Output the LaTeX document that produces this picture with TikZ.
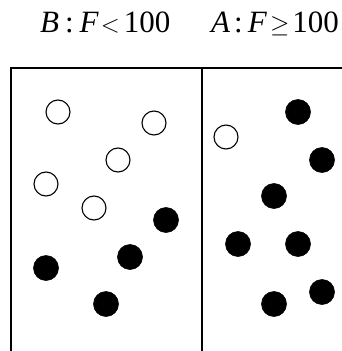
\documentclass[tikz,border=0pt]{standalone}
\usepackage{fontspec}
\setmainfont{Liberation Serif}
\begin{document}
\begin{tikzpicture}[x=1pt,y=-1pt,
  wball/.style={circle,draw=black,line width=1.1pt,fill=white,minimum size=24pt,inner sep=0pt},
  bball/.style={circle,draw=black,fill=black,line width=0.6pt,minimum size=25pt,inner sep=0pt},
  boxline/.style={line width=1.4pt,black},
  lbl/.style={anchor=base west,inner sep=0pt,font=\fontsize{31}{35}\selectfont}]
\useasboundingbox (0,0) rectangle (341,351);
% labels
\node[lbl] (lb) at (40,32) {\textit{B}\kern6pt:\kern6pt\textit{F}\kern2pt$<$\kern4pt100};
\node[lbl] (la) at (211,32) {\textit{A}\kern4pt:\kern5pt\textit{F}\kern3pt$\geq$\kern3pt100};
% box
\coordinate (tl) at (11,68);
\coordinate (bl) at (11,352);
\coordinate (tm) at (202,68);
\coordinate (bm) at (202,352);
\coordinate (tr) at (342,68);
\draw[boxline] (bl) -- (tl) -- (tr);
\draw[boxline] (tm) -- (bm);
% left region
\node[wball] (w1) at (58,112) {};
\node[wball] (w2) at (154,123) {};
\node[wball] (w3) at (118,160) {};
\node[wball] (w4) at (46,184) {};
\node[wball] (w5) at (94,208) {};
\node[bball] (b1) at (166,220) {};
\node[bball] (b2) at (130,257) {};
\node[bball] (b3) at (46,268) {};
\node[bball] (b4) at (106,304) {};
% right region
\node[wball] (w6) at (226,137) {};
\node[bball] (b5) at (298,112) {};
\node[bball] (b6) at (322,160) {};
\node[bball] (b7) at (274,196) {};
\node[bball] (b8) at (238,244) {};
\node[bball] (b9) at (298,244) {};
\node[bball] (b10) at (322,292) {};
\node[bball] (b11) at (274,304) {};
\end{tikzpicture}
\end{document}
